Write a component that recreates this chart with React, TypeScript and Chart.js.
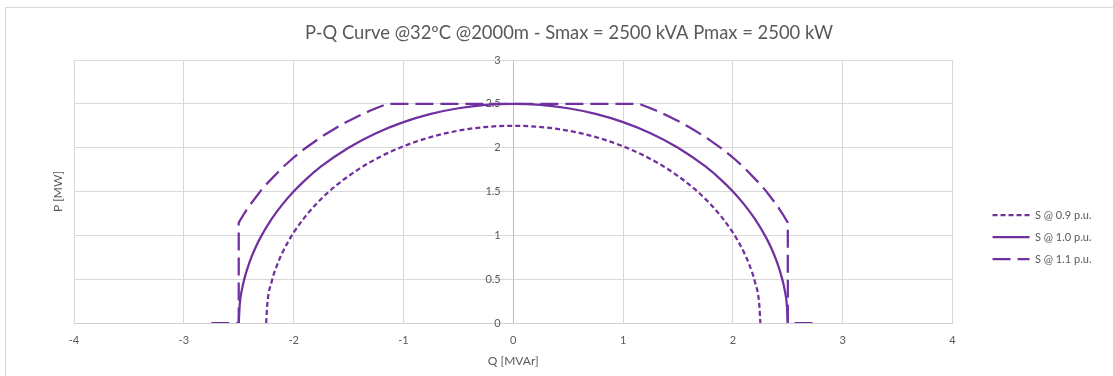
import React, { useEffect, useRef } from 'react';
import { Chart, registerables } from 'chart.js';

Chart.register(...registerables);

const chartTitle = 'P-Q Curve @32ºC @2000m - Smax = 2500 kVA Pmax = 2500 kW';
const xTitle = 'Q [MVAr]';
const yTitle = 'P [MW]';
const seriesNames = ['S @ 0.9 p.u.', 'S @ 1.0 p.u.', 'S @ 1.1 p.u.'];
const xRange = [-4, 4];
const yRange = [0, 3];

// S @ 0.9 p.u.
const q09 = [-2.25, -2.24, -2.2, -2.15, -2.1, -2.05, -2.0, -1.9, -1.8, -1.7, -1.6, -1.4, -1.2, -1.0, -0.8, -0.6, -0.4, -0.2, 0,
  0.2, 0.4, 0.6, 0.8, 1.0, 1.2, 1.4, 1.6, 1.7, 1.8, 1.9, 2.0, 2.05, 2.1, 2.15, 2.2, 2.24, 2.25];
const p09 = [0, 0.2119, 0.4717, 0.6633, 0.8078, 0.9274, 1.0308, 1.2052, 1.35, 1.4739, 1.5819, 1.7614, 1.9033, 2.0156, 2.103, 2.1685, 2.2142, 2.2411, 2.25,
  2.2411, 2.2142, 2.1685, 2.103, 2.0156, 1.9033, 1.7614, 1.5819, 1.4739, 1.35, 1.2052, 1.0308, 0.9274, 0.8078, 0.6633, 0.4717, 0.2119, 0];

// S @ 1.0 p.u.
const q10 = [-2.5, -2.49, -2.47, -2.45, -2.4, -2.35, -2.3, -2.2, -2.1, -2.0, -1.9, -1.75, -1.5, -1.25, -1.0, -0.75, -0.5, -0.25, 0,
  0.25, 0.5, 0.75, 1.0, 1.25, 1.5, 1.75, 1.9, 2.0, 2.1, 2.2, 2.3, 2.35, 2.4, 2.45, 2.47, 2.49, 2.5];
const p10 = [0, 0.2234, 0.3861, 0.4975, 0.7, 0.8529, 0.9798, 1.1874, 1.3565, 1.5, 1.6248, 1.7854, 2.0, 2.1651, 2.2913, 2.3848, 2.4495, 2.4875, 2.5,
  2.4875, 2.4495, 2.3848, 2.2913, 2.1651, 2.0, 1.7854, 1.6248, 1.5, 1.3565, 1.1874, 0.9798, 0.8529, 0.7, 0.4975, 0.3861, 0.2234, 0];

// S @ 1.1 p.u. (limited by Pmax and Q limit)
const q11 = [-2.75, -2.5, -2.5, -2.45, -2.4, -2.3, -2.25, -2.1, -2.0, -1.9, -1.75, -1.6, -1.5, -1.4, -1.3, -1.25, -1.146,
  1.146, 1.25, 1.3, 1.4, 1.5, 1.6, 1.75, 1.9, 2.0, 2.1, 2.25, 2.3, 2.4, 2.45, 2.5, 2.5, 2.75];
const p11 = [0, 0, 1.1456, 1.249, 1.3426, 1.5075, 1.5811, 1.7755, 1.8875, 1.9881, 2.1213, 2.2366, 2.3049, 2.367, 2.4233, 2.4495, 2.5,
  2.5, 2.4495, 2.4233, 2.367, 2.3049, 2.2366, 2.1213, 1.9881, 1.8875, 1.7755, 1.5811, 1.5075, 1.3426, 1.249, 1.1456, 0, 0];

const FONT = 'Lato, sans-serif';
const TEXT = '#595959';
const PURPLE = '#7030a0';
const GRID = '#d9d9d9';
const AXIS = '#bfbfbf';
const Y_LABEL_ANCHOR = -0.114; // where the centre axis labels end (x units)

export default function App() {
  const ref = useRef<HTMLCanvasElement>(null);

  useEffect(() => {
    const toPts = (qs: number[], ps: number[]) => qs.map((q, i) => ({ x: q, y: ps[i] }));
    const base = {
      showLine: true,
      pointRadius: 0,
      pointHoverRadius: 0,
      borderColor: PURPLE,
      backgroundColor: PURPLE,
      borderWidth: 2.25,
      borderCapStyle: 'butt' as const,
      fill: false,
    };
    const chart = new Chart(ref.current as HTMLCanvasElement, {
      type: 'scatter',
      data: {
        datasets: [
          { ...base, label: seriesNames[0], data: toPts(q09, p09), borderDash: [5, 3], cubicInterpolationMode: 'monotone' },
          { ...base, label: seriesNames[1], data: toPts(q10, p10), borderDash: [], cubicInterpolationMode: 'monotone' },
          { ...base, label: seriesNames[2], data: toPts(q11, p11), borderDash: [18, 7], tension: 0 },
        ],
      },
      options: {
        animation: false,
        responsive: false,
        devicePixelRatio: 1,
        maintainAspectRatio: false,
        layout: { padding: { left: 36.5, top: 0, right: 36.5, bottom: 5.8 } },
        plugins: {
          tooltip: { enabled: false },
          title: {
            display: true,
            text: chartTitle,
            color: TEXT,
            font: { family: FONT, size: 18.4, weight: 'normal' },
            padding: { top: 21.96, bottom: 15.96 },
          },
          legend: {
            display: true,
            position: 'right',
            align: 'start',
            title: { display: true, text: ' ', font: { size: 10 }, padding: { top: 186.5, bottom: 0 } },
            labels: {
              usePointStyle: true,
              pointStyle: 'line',
              pointStyleWidth: 37,
              padding: 11,
              color: TEXT,
              font: { family: FONT, size: 11 },
              generateLabels: (c: any) => c.data.datasets.map((ds: any, i: number) => ({
                text: ds.label,
                fillStyle: PURPLE,
                strokeStyle: PURPLE,
                lineWidth: 2.25,
                lineDash: ds.borderDash || [],
                lineCap: 'butt',
                pointStyle: 'line',
                fontColor: TEXT,
                hidden: false,
                datasetIndex: i,
              })),
            },
          },
        },
        scales: {
          x: {
            type: 'linear',
            position: 'bottom',
            min: xRange[0],
            max: xRange[1],
            ticks: { stepSize: 1, padding: 11, color: TEXT, font: { family: FONT, size: 11 }, callback: (v: any) => String(v) },
            grid: { color: (ctx: any) => (ctx.tick && ctx.tick.value === 0 ? AXIS : GRID), lineWidth: 1, drawTicks: false },
            border: { display: true, color: '#d0d0d0' },
            title: { display: true, text: xTitle, color: TEXT, font: { family: FONT, size: 12 }, padding: { top: 6.6, bottom: 2 } },
            afterFit: (s: any) => { s.height = 47.2; },
          },
          y: {
            type: 'linear',
            position: 'left',
            min: yRange[0],
            max: yRange[1],
            ticks: { display: false, stepSize: 0.5 },
            grid: { color: GRID, lineWidth: 1, drawTicks: false },
            border: { display: false },
            title: { display: true, text: yTitle, color: TEXT, font: { family: FONT, size: 12 }, padding: { top: 14.3, bottom: 0 } },
            afterFit: (s: any) => { s.width = 37.5; },
          },
          yAxisLabels: {
            type: 'linear',
            position: { x: Y_LABEL_ANCHOR } as any,
            min: yRange[0],
            max: yRange[1],
            ticks: { stepSize: 0.5, padding: 0, color: TEXT, font: { family: FONT, size: 11 }, callback: (v: any) => String(v) },
            grid: { display: false, drawTicks: false },
            border: { display: false },
          },
          legendGap: {
            type: 'linear',
            position: 'right',
            display: true,
            min: 0,
            max: 1,
            ticks: { display: false },
            grid: { display: false, drawTicks: false },
            border: { display: false },
            afterFit: (s: any) => { s.width = 29; },
          },
        },
      } as any,
    });
    return () => chart.destroy();
  }, []);

  return (
    <div style={{ position: 'fixed', left: 0, top: 0, width: 1113, height: 376, overflow: 'hidden', background: '#ffffff' }}>
      <div style={{ position: 'absolute', left: 5, top: 7, width: 1200, height: 420, border: '1px solid #d9d9d9' }} />
      <canvas ref={ref} width={1138} height={376} style={{ position: 'absolute', left: 0, top: 0, width: 1138, height: 376 }} />
    </div>
  );
}
